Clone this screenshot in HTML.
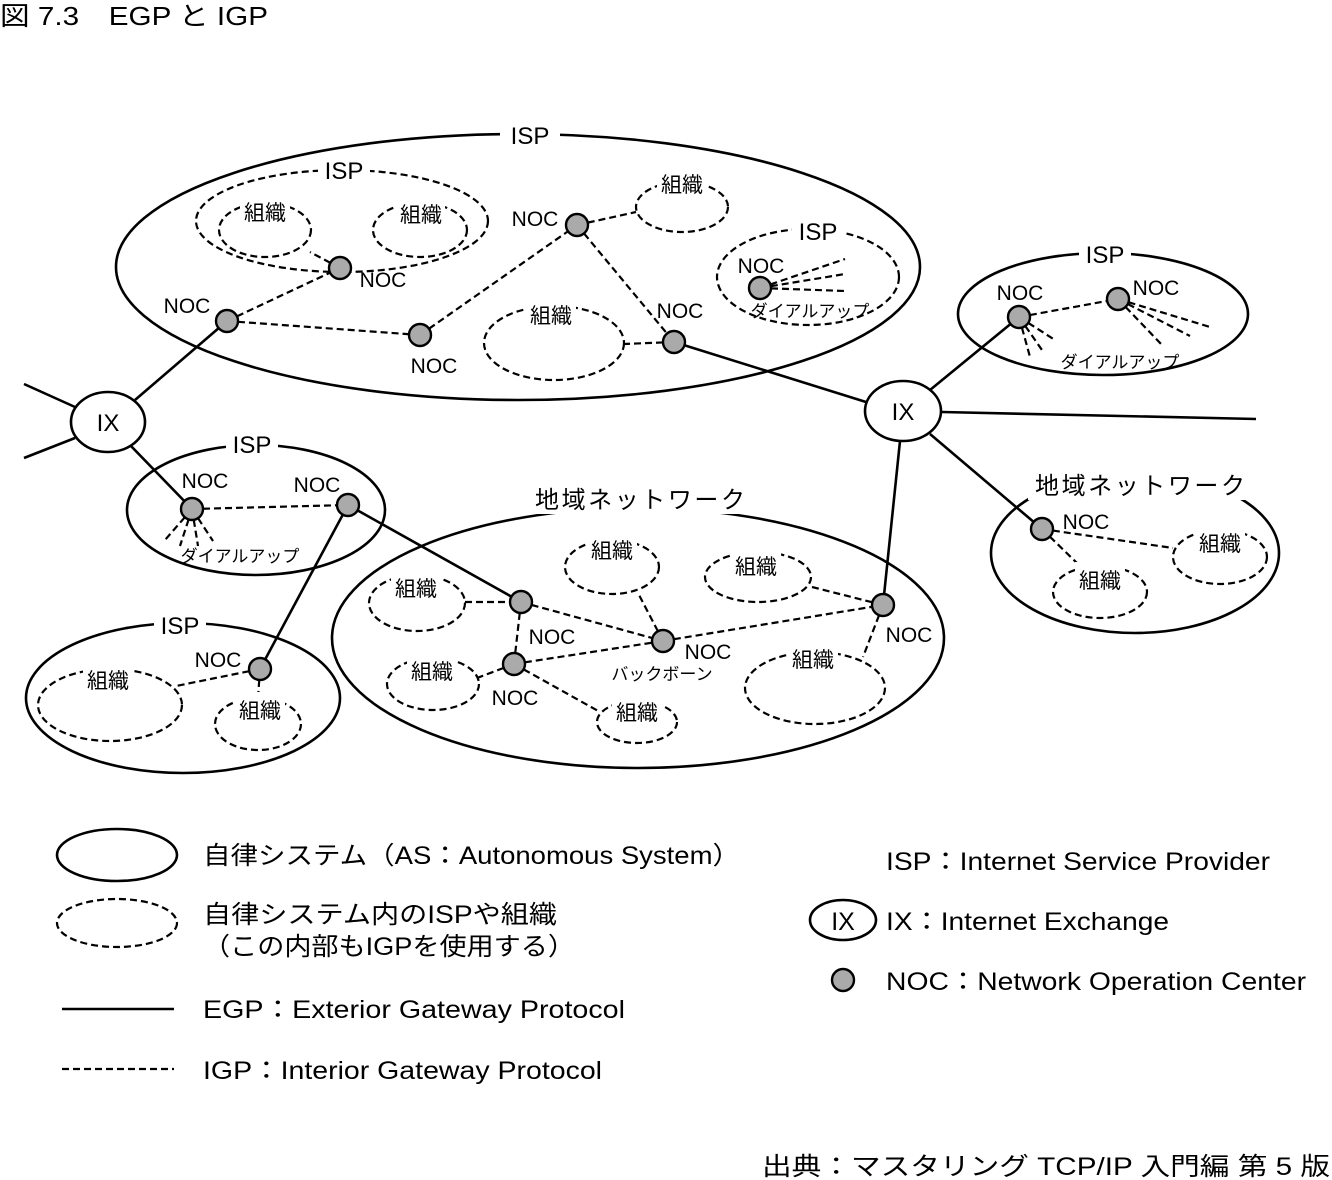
<!DOCTYPE html>
<html><head><meta charset="utf-8"><style>
html,body{margin:0;padding:0;background:#fff;}
svg{display:block;font-family:"Liberation Sans","Noto Sans CJK JP",sans-serif;}
.s{fill:none;stroke:#000;stroke-width:2.6}
.d{fill:none;stroke:#000;stroke-width:2.2;stroke-dasharray:7,4}
.n{fill:#aaa;stroke:#000;stroke-width:2.4}
text{fill:#000}
.l{font-size:21px;text-anchor:middle}
.b{font-size:24px;text-anchor:middle}
.sm{font-size:17px;text-anchor:middle}
.g{font-size:25px}
</style></head><body>
<svg width="1332" height="1180" viewBox="0 0 1332 1180">
<text x="0" y="25" font-size="26" textLength="268" lengthAdjust="spacingAndGlyphs">図 7.3　EGP と IGP</text>

<!-- solid lines -->
<line class="s" x1="24" y1="384" x2="75" y2="407"/>
<line class="s" x1="24" y1="458" x2="75" y2="438"/>
<line class="s" x1="135" y1="400" x2="227" y2="321"/>
<line class="s" x1="130" y1="445" x2="192" y2="509"/>
<line class="s" x1="674" y1="342" x2="866" y2="402"/>
<line class="s" x1="942" y1="412" x2="1256" y2="419"/>
<line class="s" x1="930" y1="390" x2="1019" y2="317"/>
<line class="s" x1="930" y1="434" x2="1042" y2="529"/>
<line class="s" x1="900" y1="441" x2="883" y2="605"/>
<line class="s" x1="348" y1="505" x2="260" y2="669"/>
<line class="s" x1="348" y1="505" x2="521" y2="602"/>

<!-- big ellipses -->
<ellipse class="s" cx="518" cy="267" rx="402" ry="133"/>
<ellipse class="s" cx="108" cy="422" rx="37" ry="30" style="fill:#fff"/>
<ellipse class="s" cx="903" cy="411" rx="38" ry="30" style="fill:#fff"/>
<ellipse class="s" cx="1103" cy="314" rx="145" ry="61"/>
<ellipse class="s" cx="1135" cy="553" rx="144" ry="80"/>
<ellipse class="s" cx="256" cy="510" rx="129" ry="65"/>
<ellipse class="s" cx="183" cy="698" rx="157" ry="75"/>
<ellipse class="s" cx="638" cy="638" rx="306" ry="130"/>

<!-- dashed ellipses -->
<ellipse class="d" cx="342" cy="221" rx="146" ry="51"/>
<ellipse class="d" cx="265" cy="230" rx="46" ry="27"/>
<ellipse class="d" cx="420" cy="230" rx="47" ry="27"/>
<ellipse class="d" cx="682" cy="207" rx="46" ry="25"/>
<ellipse class="d" cx="808" cy="277" rx="91" ry="48"/>
<ellipse class="d" cx="554" cy="343" rx="70" ry="37"/>
<ellipse class="d" cx="1220" cy="557" rx="47" ry="27"/>
<ellipse class="d" cx="1100" cy="592" rx="47" ry="26"/>
<ellipse class="d" cx="110" cy="705" rx="72" ry="36"/>
<ellipse class="d" cx="258" cy="724" rx="43" ry="26"/>
<ellipse class="d" cx="612" cy="567" rx="47" ry="27"/>
<ellipse class="d" cx="758" cy="577" rx="53" ry="25"/>
<ellipse class="d" cx="417" cy="603" rx="48" ry="28"/>
<ellipse class="d" cx="433" cy="684" rx="46" ry="26"/>
<ellipse class="d" cx="637" cy="722" rx="40" ry="21"/>
<ellipse class="d" cx="815" cy="688" rx="70" ry="36"/>

<!-- dashed links -->
<line class="d" x1="227" y1="321" x2="340" y2="268"/>
<line class="d" x1="340" y1="268" x2="310" y2="252"/>
<line class="d" x1="227" y1="321" x2="420" y2="335"/>
<line class="d" x1="420" y1="335" x2="577" y2="225"/>
<line class="d" x1="577" y1="225" x2="636" y2="212"/>
<line class="d" x1="577" y1="225" x2="674" y2="342"/>
<line class="d" x1="674" y1="342" x2="624" y2="344"/>
<line class="d" x1="760" y1="288" x2="845" y2="259"/>
<line class="d" x1="760" y1="288" x2="845" y2="274"/>
<line class="d" x1="760" y1="288" x2="845" y2="291"/>
<line class="d" x1="1019" y1="317" x2="1118" y2="299"/>
<line class="d" x1="1019" y1="317" x2="1055" y2="340"/>
<line class="d" x1="1019" y1="317" x2="1042" y2="350"/>
<line class="d" x1="1019" y1="317" x2="1030" y2="357"/>
<line class="d" x1="1118" y1="299" x2="1210" y2="327"/>
<line class="d" x1="1118" y1="299" x2="1190" y2="336"/>
<line class="d" x1="1118" y1="299" x2="1162" y2="345"/>
<line class="d" x1="1042" y1="529" x2="1173" y2="548"/>
<line class="d" x1="1042" y1="529" x2="1080" y2="566"/>
<line class="d" x1="192" y1="509" x2="348" y2="505"/>
<line class="d" x1="192" y1="509" x2="165" y2="540"/>
<line class="d" x1="192" y1="509" x2="180" y2="546"/>
<line class="d" x1="192" y1="509" x2="198" y2="546"/>
<line class="d" x1="192" y1="509" x2="213" y2="541"/>
<line class="d" x1="260" y1="669" x2="176" y2="686"/>
<line class="d" x1="260" y1="669" x2="258" y2="698"/>
<line class="d" x1="465" y1="602" x2="521" y2="602"/>
<line class="d" x1="521" y1="602" x2="514" y2="664"/>
<line class="d" x1="521" y1="602" x2="663" y2="641"/>
<line class="d" x1="514" y1="664" x2="663" y2="641"/>
<line class="d" x1="663" y1="641" x2="883" y2="605"/>
<line class="d" x1="663" y1="641" x2="638" y2="593"/>
<line class="d" x1="812" y1="587" x2="883" y2="605"/>
<line class="d" x1="514" y1="664" x2="477" y2="678"/>
<line class="d" x1="514" y1="664" x2="600" y2="712"/>
<line class="d" x1="883" y1="605" x2="863" y2="657"/>

<!-- nodes -->
<g class="n">
<circle cx="340" cy="268" r="11"/><circle cx="227" cy="321" r="11"/><circle cx="420" cy="335" r="11"/>
<circle cx="577" cy="225" r="11"/><circle cx="760" cy="288" r="11"/><circle cx="674" cy="342" r="11"/>
<circle cx="1019" cy="317" r="11"/><circle cx="1118" cy="299" r="11"/><circle cx="1042" cy="529" r="11"/>
<circle cx="192" cy="509" r="11"/><circle cx="348" cy="505" r="11"/><circle cx="260" cy="669" r="11"/>
<circle cx="521" cy="602" r="11"/><circle cx="514" cy="664" r="11"/><circle cx="663" cy="641" r="11"/>
<circle cx="883" cy="605" r="11"/>
</g>

<!-- labels with white bg -->
<g class="b">
<rect x="500" y="120" width="60" height="28" fill="#fff"/><text x="530" y="144">ISP</text>
<rect x="318" y="156" width="52" height="28" fill="#fff"/><text x="344" y="179">ISP</text>
<rect x="792" y="217" width="52" height="28" fill="#fff"/><text x="818" y="240">ISP</text>
<rect x="1079" y="240" width="52" height="28" fill="#fff"/><text x="1105" y="263">ISP</text>
<rect x="226" y="430" width="52" height="28" fill="#fff"/><text x="252" y="453">ISP</text>
<rect x="154" y="611" width="52" height="28" fill="#fff"/><text x="180" y="634">ISP</text>
<rect x="528" y="484" width="224" height="30" fill="#fff"/><text x="640" y="508" textLength="210" lengthAdjust="spacing">地域ネットワーク</text>
<rect x="1028" y="470" width="224" height="30" fill="#fff"/><text x="1140" y="494" textLength="210" lengthAdjust="spacing">地域ネットワーク</text>
<text x="108" y="431">IX</text><text x="903" y="420">IX</text>
</g>
<g class="l">
<rect x="240" y="194" width="50" height="30" fill="#fff"/><text x="265" y="220">組織</text>
<rect x="395" y="198" width="50" height="30" fill="#fff"/><text x="421" y="222">組織</text>
<rect x="657" y="166" width="50" height="30" fill="#fff"/><text x="682" y="192">組織</text>
<rect x="526" y="297" width="50" height="30" fill="#fff"/><text x="551" y="323">組織</text>
<rect x="1195" y="525" width="50" height="30" fill="#fff"/><text x="1220" y="551">組織</text>
<rect x="1075" y="562" width="50" height="30" fill="#fff"/><text x="1100" y="588">組織</text>
<rect x="83" y="662" width="50" height="30" fill="#fff"/><text x="108" y="688">組織</text>
<rect x="235" y="692" width="50" height="30" fill="#fff"/><text x="260" y="718">組織</text>
<rect x="587" y="532" width="50" height="30" fill="#fff"/><text x="612" y="558">組織</text>
<rect x="731" y="548" width="50" height="30" fill="#fff"/><text x="756" y="574">組織</text>
<rect x="391" y="570" width="50" height="30" fill="#fff"/><text x="416" y="596">組織</text>
<rect x="407" y="653" width="50" height="30" fill="#fff"/><text x="432" y="679">組織</text>
<rect x="612" y="694" width="50" height="30" fill="#fff"/><text x="637" y="720">組織</text>
<rect x="788" y="641" width="50" height="30" fill="#fff"/><text x="813" y="667">組織</text>
<text x="383" y="287">NOC</text><text x="187" y="313">NOC</text><text x="434" y="373">NOC</text>
<text x="535" y="226">NOC</text><text x="761" y="273">NOC</text><text x="680" y="318">NOC</text>
<text x="1020" y="300">NOC</text><text x="1156" y="295">NOC</text><text x="1086" y="529">NOC</text>
<text x="205" y="488">NOC</text><text x="317" y="492">NOC</text><text x="218" y="667">NOC</text>
<text x="552" y="644">NOC</text><text x="515" y="705">NOC</text><text x="708" y="659">NOC</text>
<text x="909" y="642">NOC</text>
</g>
<g class="sm">
<text x="810" y="317">ダイアルアップ</text>
<text x="1120" y="368">ダイアルアップ</text>
<text x="240" y="562">ダイアルアップ</text>
<text x="662" y="680">バックボーン</text>
</g>

<!-- legend -->
<ellipse class="s" cx="117" cy="855" rx="60" ry="26"/>
<ellipse class="d" cx="117" cy="923" rx="60" ry="24"/>
<line class="s" x1="62" y1="1009" x2="174" y2="1009"/>
<line class="d" x1="62" y1="1069" x2="174" y2="1069"/>
<g class="g">
<text x="203" y="864" textLength="537" lengthAdjust="spacingAndGlyphs">自律システム（AS：Autonomous System）</text>
<text x="203" y="923" textLength="354" lengthAdjust="spacingAndGlyphs">自律システム内のISPや組織</text>
<text x="203" y="955" textLength="372" lengthAdjust="spacingAndGlyphs">（この内部もIGPを使用する）</text>
<text x="203" y="1018" textLength="422" lengthAdjust="spacingAndGlyphs">EGP：Exterior Gateway Protocol</text>
<text x="203" y="1079" textLength="399" lengthAdjust="spacingAndGlyphs">IGP：Interior Gateway Protocol</text>
<text x="886" y="870" textLength="384" lengthAdjust="spacingAndGlyphs">ISP：Internet Service Provider</text>
<text x="886" y="930" textLength="283" lengthAdjust="spacingAndGlyphs">IX：Internet Exchange</text>
<text x="886" y="990" textLength="420" lengthAdjust="spacingAndGlyphs">NOC：Network Operation Center</text>
<text x="843" y="930" text-anchor="middle">IX</text>
<text x="762" y="1175" textLength="568" lengthAdjust="spacingAndGlyphs">出典：マスタリング TCP/IP 入門編 第 5 版</text>
</g>
<ellipse class="s" cx="843" cy="920" rx="33" ry="20"/>
<circle class="n" cx="843" cy="980" r="11"/>
</svg>
</body></html>
